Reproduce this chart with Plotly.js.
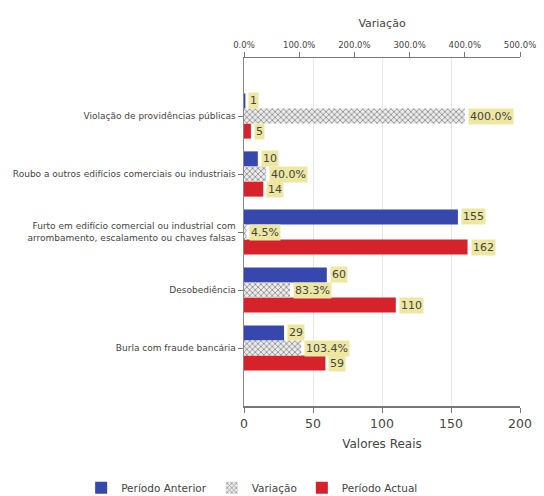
<!DOCTYPE html>
<html>
<head>
<meta charset="utf-8">
<script src="https://cdn.plot.ly/plotly-3.0.1.min.js"></script>
<style>html,body{margin:0;padding:0;background:#fff;}#chart{width:544px;height:496px;}</style>
</head>
<body>
<div id="chart"></div>
<script>
const categories = [
  "Violação de providências públicas",
  "Roubo a outros edifícios comerciais ou industriais",
  "Furto em edifício comercial ou industrial com<br>arrombamento, escalamento ou chaves falsas",
  "Desobediência",
  "Burla com fraude bancária"
];
const periodoAnterior = [1, 10, 155, 60, 29];
const periodoActual = [5, 14, 162, 110, 59];
const variacao = [400.0, 40.0, 4.5, 83.3, 103.4];

const BLUE = '#3647ad', RED = '#d6222a';
const FONT = 'DejaVu Sans, Verdana, sans-serif';
const W = 0.26;
const idx = categories.map((c, i) => i);

const traces = [
  {type:'bar', orientation:'h', name:'Período Anterior', y: idx, x: periodoAnterior,
   xaxis:'x', yaxis:'y', offset:-1.5*W, width:W, marker:{color:BLUE}, hoverinfo:'x'},
  {type:'bar', orientation:'h', name:'Variação', y: idx, x: variacao,
   xaxis:'x2', yaxis:'y', offset:-0.5*W, width:W,
   marker:{color:'#ffffff', pattern:{shape:'x', size:4, solidity:0.4, fgcolor:'#909090', bgcolor:'#ececec'}}, hoverinfo:'x'},
  {type:'bar', orientation:'h', name:'Período Actual', y: idx, x: periodoActual,
   xaxis:'x', yaxis:'y', offset:0.5*W, width:W, marker:{color:RED}, hoverinfo:'x'}
];

const annotations = [];
function lab(x, y, text, xref) {
  annotations.push({x:x, y:y, xref:xref, yref:'y', text:text, showarrow:false,
    xanchor:'left', yanchor:'middle', xshift:3, bgcolor:'#ede7a2', borderpad:1,
    font:{family:FONT, size:11, color:'#444'}});
}
idx.forEach(i => {
  lab(periodoAnterior[i], i - W, String(periodoAnterior[i]), 'x');
  lab(variacao[i], i, variacao[i].toFixed(1) + '%', 'x2');
  lab(periodoActual[i], i + W, String(periodoActual[i]), 'x');
});

const layout = {
  width:544, height:496,
  margin:{l:244, r:24, t:58, b:90, autoexpand:false},
  paper_bgcolor:'#fff', plot_bgcolor:'#fff',
  font:{family:FONT, color:'#444'},
  showlegend:true,
  legend:{orientation:'h', x:-0.59, xanchor:'left', y:-0.235, yanchor:'middle',
    font:{size:10.5, color:'#444'}, traceorder:'normal', itemwidth:30},
  xaxis:{range:[0,200], tickvals:[0,50,100,150,200], showgrid:true, gridcolor:'#e6e6e6',
    zeroline:false, showline:true, linecolor:'#777', linewidth:1.5, ticks:'outside', ticklen:5, tickcolor:'#777',
    automargin:false,
    tickfont:{size:12.5, color:'#444'}, title:{text:'Valores Reais', font:{size:12, color:'#444'}, standoff:10}},
  xaxis2:{overlaying:'x', side:'top', range:[0,500], tickvals:[0,100,200,300,400,500],
    ticktext:['0.0%','100.0%','200.0%','300.0%','400.0%','500.0%'], showgrid:false, zeroline:false,
    showline:true, linecolor:'#777', linewidth:1.5, ticks:'outside', ticklen:5, tickcolor:'#777',
    automargin:false,
    tickfont:{size:8.5, color:'#444'}, title:{text:'Variação', font:{size:11, color:'#444'}, standoff:10}},
  yaxis:{range:[5,-1], tickvals:idx, ticktext:categories, showgrid:false, zeroline:false,
    showline:true, linecolor:'#888', linewidth:1.5, ticks:'outside', ticklen:5, tickcolor:'#777',
    automargin:false,
    tickfont:{size:9, color:'#444'}},
  annotations:annotations
};

Plotly.newPlot('chart', traces, layout, {displayModeBar:false, staticPlot:true});
</script>
</body>
</html>
